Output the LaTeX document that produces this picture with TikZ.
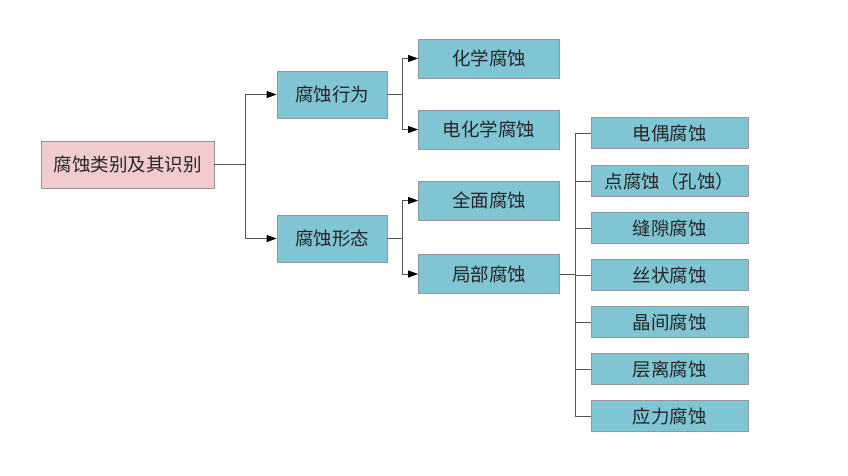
\documentclass[tikz,border=0pt]{standalone}
\usepackage{fontspec}
\setmainfont{Noto Sans CJK SC}
\usetikzlibrary{arrows.meta}
\definecolor{boxblue}{RGB}{128,197,212}
\definecolor{boxpink}{RGB}{242,204,204}
\definecolor{boxedge}{RGB}{150,150,150}
\definecolor{linegray}{RGB}{85,85,85}
\begin{document}
\begin{tikzpicture}[x=1pt,y=-1pt,
  base/.style={draw=boxedge,line width=0.8pt,inner sep=0pt,font=\fontsize{18.5}{20}\selectfont,text=black!85},
  rootbox/.style={base,fill=boxpink,minimum width=173pt,minimum height=47pt},
  midbox/.style={base,fill=boxblue,minimum width=110pt,minimum height=47pt},
  subbox/.style={base,fill=boxblue,minimum width=141pt,minimum height=39pt},
  leafbox/.style={base,fill=boxblue,minimum width=157pt,minimum height=31pt},
  conn/.style={draw=linegray,line width=0.8pt},
  arr/.style={conn,-{Triangle[length=10pt,width=7pt,fill=black,color=black]}}]
\useasboundingbox (0,0) rectangle (848,475);
\node[rootbox] (root) at (127.5,164.5) {腐蚀类别及其识别};
\node[midbox] (beh) at (332,94.5) {腐蚀行为};
\node[midbox] (mor) at (332,238.5) {腐蚀形态};
\node[subbox] (chem) at (489,58.5) {化学腐蚀};
\node[subbox] (echem) at (489,129.5) {电化学腐蚀};
\node[subbox] (gen) at (489,200.5) {全面腐蚀};
\node[subbox] (loc) at (489,274) {局部腐蚀};
\node[leafbox] (l1) at (669.5,133) {电偶腐蚀};
\node[leafbox] (l2) at (669.5,181) {点腐蚀（孔蚀）};
\node[leafbox] (l3) at (669.5,228) {缝隙腐蚀};
\node[leafbox] (l4) at (669.5,275) {丝状腐蚀};
\node[leafbox] (l5) at (669.5,322) {晶间腐蚀};
\node[leafbox] (l6) at (669.5,369) {层离腐蚀};
\node[leafbox] (l7) at (669.5,416) {应力腐蚀};
% root branches
\draw[conn] (root.east) -- (245,164.5);
\draw[arr] (245,164.5) |- (beh.west);
\draw[arr] (245,164.5) |- (mor.west);
% behaviour branches
\draw[conn] (beh.east) -- (402,94.5);
\draw[arr] (402,94.5) |- (chem.west);
\draw[arr] (402,94.5) |- (echem.west);
% morphology branches
\draw[conn] (mor.east) -- (402,238.5);
\draw[arr] (402,238.5) |- (gen.west);
\draw[arr] (402,238.5) |- (loc.west);
% local corrosion leaves
\draw[conn] (loc.east) -- (575,274);
\draw[conn] (575,133) -- (575,416);
\foreach \n in {l1,l2,l3,l4,l5,l6,l7} \draw[conn] (\n.west) -- (575,0 |- \n.west) ;
\end{tikzpicture}
\end{document}
